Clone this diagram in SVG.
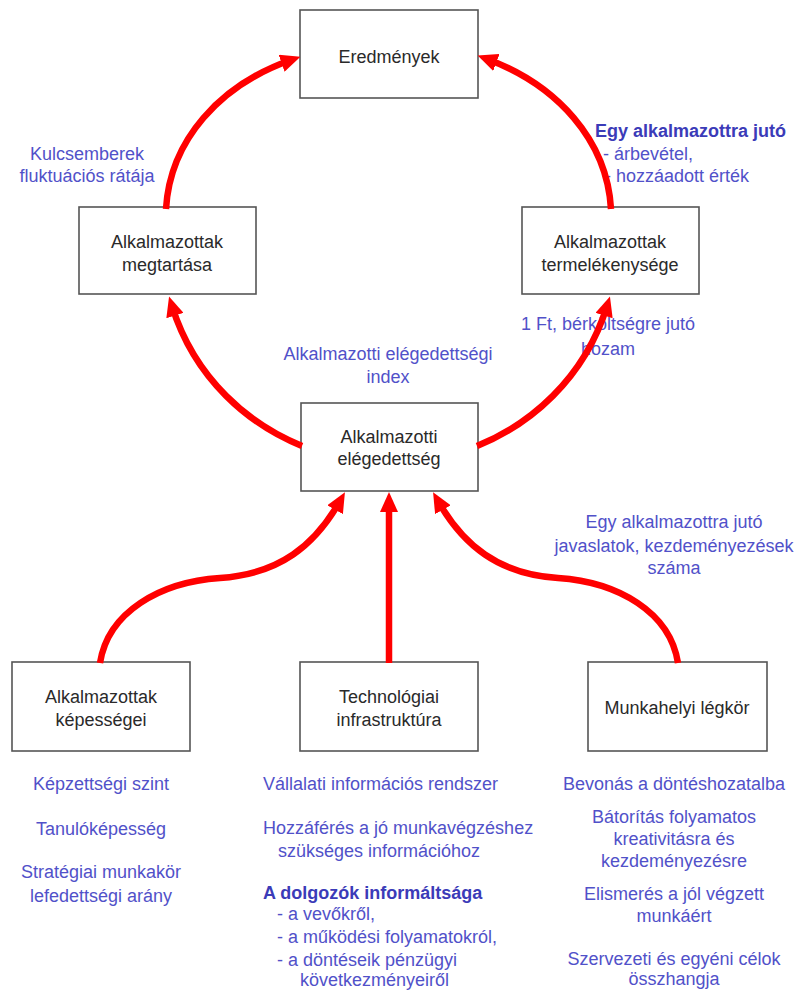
<svg xmlns="http://www.w3.org/2000/svg" width="795" height="992" viewBox="0 0 795 992">
<style>
.box{fill:#fff;stroke:#555;stroke-width:1.6}
.nt{font-family:"Liberation Sans",Arial,sans-serif;font-size:18px;fill:#2a2a2a;text-anchor:middle}
.lb{font-family:"Liberation Sans",Arial,sans-serif;font-size:18px;fill:#5151c9}
.c{text-anchor:middle}
.b{font-weight:bold;fill:#3b3bb8}
.arr{fill:none;stroke:#ff0000;stroke-width:6.5;marker-end:url(#ah)}
</style>
<defs>
<marker id="ah" markerUnits="userSpaceOnUse" markerWidth="20" markerHeight="18" viewBox="0 0 20 18" refX="10" refY="9" orient="auto">
<path d="M0,0 L20,9 L0,18 z" fill="#ff0000"/>
</marker>
</defs>
<rect width="795" height="992" fill="#fff"/>

<g id="labels">
<text class="lb c" x="87" y="160">Kulcsemberek</text>
<text class="lb c" x="87" y="182">fluktuációs rátája</text>
<text class="lb b" x="595" y="137">Egy alkalmazottra jutó</text>
<text class="lb" x="603" y="160">- árbevétel,</text>
<text class="lb" x="605" y="182">- hozzáadott érték</text>
<text class="lb c" x="608" y="330">1 Ft, bérköltségre jutó</text>
<text class="lb c" x="608" y="355">hozam</text>
<text class="lb c" x="388" y="360">Alkalmazotti elégedettségi</text>
<text class="lb c" x="388" y="383">index</text>
<text class="lb c" x="674" y="528">Egy alkalmazottra jutó</text>
<text class="lb c" x="674" y="552">javaslatok, kezdeményezések</text>
<text class="lb c" x="674" y="574">száma</text>

<text class="lb c" x="101" y="790">Képzettségi szint</text>
<text class="lb c" x="101" y="835">Tanulóképesség</text>
<text class="lb c" x="101" y="878">Stratégiai munkakör</text>
<text class="lb c" x="101" y="902">lefedettségi arány</text>

<text class="lb" x="263" y="790">Vállalati információs rendszer</text>
<text class="lb" x="263" y="834">Hozzáférés a jó munkavégzéshez</text>
<text class="lb" x="278" y="857">szükséges információhoz</text>
<text class="lb b" x="263" y="899">A dolgozók informáltsága</text>
<text class="lb" x="277" y="920">- a vevőkről,</text>
<text class="lb" x="277" y="943">- a működési folyamatokról,</text>
<text class="lb" x="277" y="966">- a döntéseik pénzügyi</text>
<text class="lb" x="300" y="986">következményeiről</text>

<text class="lb c" x="674" y="790">Bevonás a döntéshozatalba</text>
<text class="lb c" x="674" y="823">Bátorítás folyamatos</text>
<text class="lb c" x="674" y="845">kreativitásra és</text>
<text class="lb c" x="674" y="867">kezdeményezésre</text>
<text class="lb c" x="674" y="900">Elismerés a jól végzett</text>
<text class="lb c" x="674" y="922">munkáért</text>
<text class="lb c" x="674" y="965">Szervezeti és egyéni célok</text>
<text class="lb c" x="674" y="985">összhangja</text>
</g>

<g id="eredmenyek">
<rect class="box" x="300" y="10" width="178" height="88"/>
<text class="nt" x="389" y="63">Eredmények</text>
</g>
<g id="megtartasa">
<rect class="box" x="79" y="207" width="177" height="87"/>
<text class="nt" x="167" y="248">Alkalmazottak</text>
<text class="nt" x="167" y="271">megtartása</text>
</g>
<g id="termelekenyseg">
<rect class="box" x="522" y="207" width="177" height="87"/>
<text class="nt" x="610" y="248">Alkalmazottak</text>
<text class="nt" x="610" y="271">termelékenysége</text>
</g>
<g id="elegedettseg">
<rect class="box" x="301" y="403" width="177" height="88"/>
<text class="nt" x="389" y="443">Alkalmazotti</text>
<text class="nt" x="389" y="465">elégedettség</text>
</g>
<g id="kepessegei">
<rect class="box" x="12" y="662" width="178" height="89"/>
<text class="nt" x="101" y="703">Alkalmazottak</text>
<text class="nt" x="101" y="726">képességei</text>
</g>
<g id="infrastruktura">
<rect class="box" x="300" y="662" width="178" height="89"/>
<text class="nt" x="389" y="703">Technológiai</text>
<text class="nt" x="389" y="726">infrastruktúra</text>
</g>
<g id="legkor">
<rect class="box" x="588" y="662" width="179" height="89"/>
<text class="nt" x="677" y="714">Munkahelyi légkör</text>
</g>

<g id="connectors">
<path class="arr" d="M166,209 C170,140 220,85 291,60"/>
<path class="arr" d="M611,209 C607,140 557,85 487,59"/>
<path class="arr" d="M302,446 C250,425 195,380 172,306"/>
<path class="arr" d="M477,446 C529,425 584,380 607,306"/>
<path class="arr" d="M100,663 C108,612 160,582 220,578 C280,574 315,545 340,501"/>
<path class="arr" d="M389,663 L389,502"/>
<path class="arr" d="M678,663 C670,612 618,582 558,578 C498,574 463,545 438,501"/>
</g>
</svg>
